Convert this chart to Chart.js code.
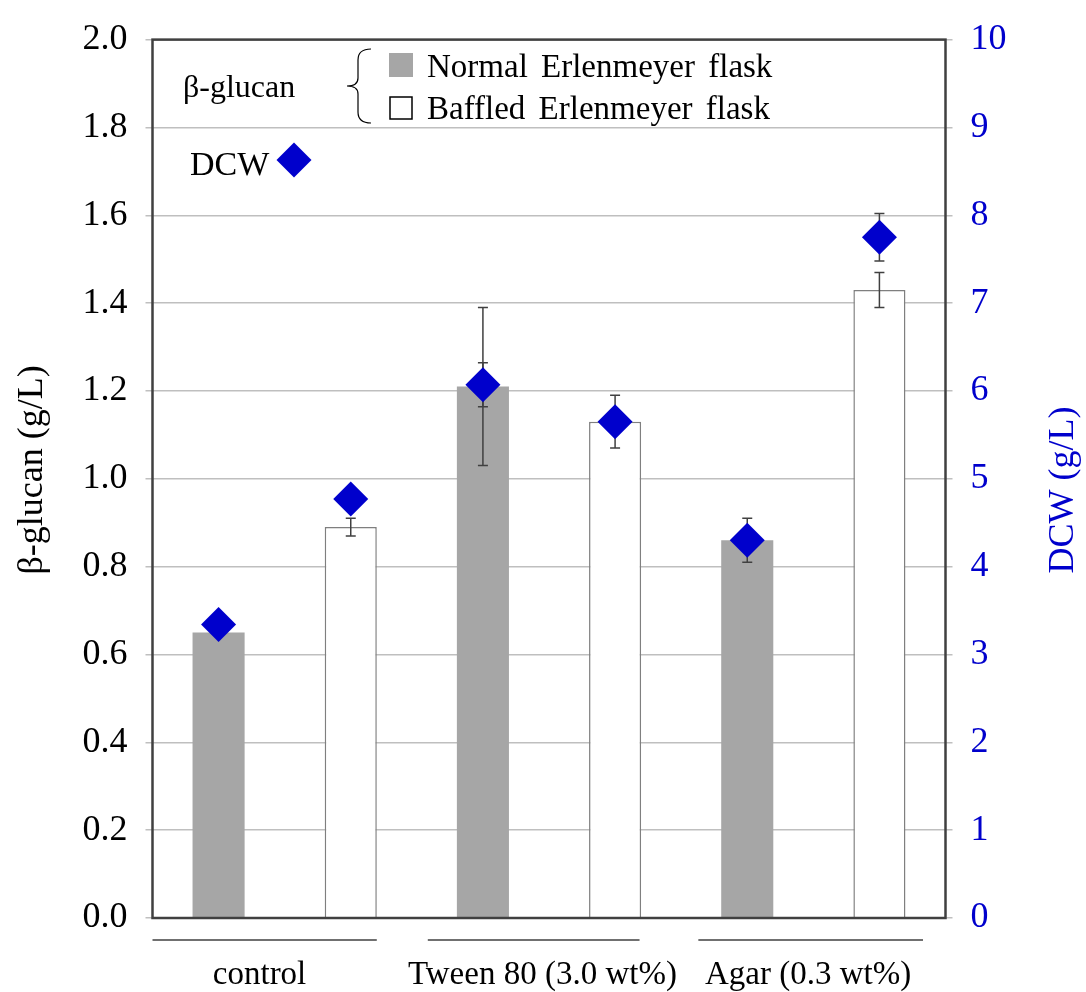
<!DOCTYPE html>
<html>
<head>
<meta charset="utf-8">
<script src="https://cdn.jsdelivr.net/npm/chart.js@4.4.1/dist/chart.umd.min.js"></script>
<style>
  html, body { margin: 0; padding: 0; background: #ffffff; }
  canvas { display: block; }
</style>
</head>
<body>
<canvas id="chart" width="1086" height="992"></canvas>
<script>
// Culture conditions and flask types
const groups = ['control', 'Tween 80 (3.0 wt%)', 'Agar (0.3 wt%)'];
const flasks = ['Normal Erlenmeyer flask', 'Baffled Erlenmeyer flask'];

// β-glucan (g/L), mean and error per condition
const glucanNormal = [0.65, 1.21, 0.86];
const glucanBaffled = [0.89, 1.13, 1.43];
const glucanNormalErr = [0, 0.18, 0.05];
const glucanBaffledErr = [0.02, 0.06, 0.04];

// Dry cell weight (g/L), mean and error per condition
const dcwNormal = [3.34, 6.07, 4.30];
const dcwBaffled = [4.77, 5.65, 7.75];
const dcwNormalErr = [0, 0.25, 0];
const dcwBaffledErr = [0, 0, 0.27];

// Axis tick labels
const glucanTickLabels = ['0.0', '0.2', '0.4', '0.6', '0.8', '1.0', '1.2', '1.4', '1.6', '1.8', '2.0'];
const dcwTickLabels = ['0', '1', '2', '3', '4', '5', '6', '7', '8', '9', '10'];

const SERIF = '"Liberation Serif", "Times New Roman", serif';
const BLUE = '#0000CC';
const GREY_BAR = '#A6A6A6';
const DARK = '#404040';

// One slot per bar: normal, baffled for each culture condition
const slots = [];
groups.forEach(g => flasks.forEach(f => slots.push(g + ' / ' + f)));
function spread(values, which) {
  const out = [];
  values.forEach(v => { out.push(which === 0 ? v : null); out.push(which === 1 ? v : null); });
  return out;
}

const errorBars = {
  id: 'errorBars',
  drawFor(chart, meta, ds) {
    const scale = chart.scales[meta.yAxisID];
    const ctx = chart.ctx;
    ctx.save();
    ctx.strokeStyle = DARK;
    ctx.lineWidth = 1.5;
    meta.data.forEach((el, i) => {
      const v = ds.data[i];
      const e = ds.errors[i];
      if (v === null || v === undefined || !e) return;
      const x = el.x;
      const yTop = scale.getPixelForValue(v + e);
      const yBot = scale.getPixelForValue(v - e);
      ctx.beginPath();
      ctx.moveTo(x, yTop); ctx.lineTo(x, yBot);
      ctx.moveTo(x - 5, yTop); ctx.lineTo(x + 5, yTop);
      ctx.moveTo(x - 5, yBot); ctx.lineTo(x + 5, yBot);
      ctx.stroke();
    });
    ctx.restore();
  },
  afterDatasetDraw(chart, args) {
    const ds = chart.data.datasets[args.index];
    if (ds.type === 'bar' && ds.errors) this.drawFor(chart, args.meta, ds);
  },
  beforeDatasetDraw(chart, args) {
    const ds = chart.data.datasets[args.index];
    if (ds.type === 'line' && ds.errors) this.drawFor(chart, args.meta, ds);
  }
};

function diamond(ctx, x, y, r) {
  ctx.beginPath();
  ctx.moveTo(x - r, y); ctx.lineTo(x, y - r); ctx.lineTo(x + r, y); ctx.lineTo(x, y + r);
  ctx.closePath();
  ctx.fill();
}

const decorations = {
  id: 'decorations',
  afterDraw(chart) {
    const ctx = chart.ctx;
    const a = chart.chartArea;
    const xs = chart.scales.x;
    ctx.save();

    // plot frame
    ctx.strokeStyle = DARK;
    ctx.lineWidth = 2.5;
    ctx.strokeRect(a.left, a.top, a.right - a.left, a.bottom - a.top);

    // axis titles
    ctx.font = '36px ' + SERIF;
    ctx.textAlign = 'center';
    ctx.textBaseline = 'middle';
    ctx.fillStyle = '#000000';
    ctx.save();
    ctx.translate(33, 470);
    ctx.rotate(-Math.PI / 2);
    ctx.fillText('β-glucan (g/L)', 0, 0);
    ctx.restore();
    ctx.fillStyle = BLUE;
    ctx.save();
    ctx.translate(1064, 490);
    ctx.rotate(-Math.PI / 2);
    ctx.fillText('DCW (g/L)', 0, 0);
    ctx.restore();

    // group rules and labels under the axis
    const rules = [[-0.5, 1.197], [1.583, 3.185], [3.63, 5.33]];
    const labelAt = [0.31, 2.45, 4.46];
    ctx.strokeStyle = DARK;
    ctx.lineWidth = 1.5;
    ctx.fillStyle = '#000000';
    ctx.font = '33px ' + SERIF;
    ctx.textBaseline = 'alphabetic';
    groups.forEach((g, i) => {
      ctx.beginPath();
      ctx.moveTo(xs.getPixelForValue(rules[i][0]), 940);
      ctx.lineTo(xs.getPixelForValue(rules[i][1]), 940);
      ctx.stroke();
      ctx.fillText(g, xs.getPixelForValue(labelAt[i]), 984);
    });

    // legend
    ctx.font = '32px ' + SERIF;
    ctx.textAlign = 'left';
    ctx.fillStyle = '#000000';
    ctx.fillText('β-glucan', 183, 97);
    ctx.font = '33px ' + SERIF;
    if ('wordSpacing' in ctx) ctx.wordSpacing = '5px';
    ctx.fillText(flasks[0], 427, 77);
    ctx.fillText(flasks[1], 427, 119);
    if ('wordSpacing' in ctx) ctx.wordSpacing = '0px';
    ctx.font = '34px ' + SERIF;
    ctx.fillText('DCW', 190, 175);

    ctx.fillStyle = GREY_BAR;
    ctx.fillRect(389, 53, 24, 24);
    ctx.fillStyle = '#ffffff';
    ctx.fillRect(390, 97, 22, 22);
    ctx.strokeStyle = '#000000';
    ctx.lineWidth = 1.5;
    ctx.strokeRect(390, 97, 22, 22);

    // brace grouping the two flask entries
    ctx.lineWidth = 1.2;
    ctx.beginPath();
    ctx.moveTo(371, 49);
    ctx.quadraticCurveTo(358, 49, 358, 60);
    ctx.lineTo(358, 78);
    ctx.quadraticCurveTo(358, 86, 347, 86);
    ctx.quadraticCurveTo(358, 86, 358, 94);
    ctx.lineTo(358, 112);
    ctx.quadraticCurveTo(358, 123, 371, 123);
    ctx.stroke();

    ctx.fillStyle = BLUE;
    diamond(ctx, 294, 160, 17.5);

    ctx.restore();
  }
};

const diamondStyle = {
  type: 'line',
  yAxisID: 'y2',
  showLine: false,
  pointStyle: 'rectRot',
  pointRadius: 17.5,
  pointHoverRadius: 17.5,
  pointBackgroundColor: BLUE,
  pointBorderColor: BLUE,
  pointBorderWidth: 0,
  order: 1
};

new Chart(document.getElementById('chart'), {
  data: {
    labels: slots,
    datasets: [
      Object.assign({ label: 'DCW normal', data: spread(dcwNormal, 0), errors: spread(dcwNormalErr, 0) }, diamondStyle),
      Object.assign({ label: 'DCW baffled', data: spread(dcwBaffled, 1), errors: spread(dcwBaffledErr, 1) }, diamondStyle),
      {
        type: 'bar', label: flasks[0], yAxisID: 'y',
        data: spread(glucanNormal, 0), errors: spread(glucanNormalErr, 0),
        backgroundColor: GREY_BAR, borderWidth: 0,
        skipNull: true, barPercentage: 0.394, categoryPercentage: 1, order: 2
      },
      {
        type: 'bar', label: flasks[1], yAxisID: 'y',
        data: spread(glucanBaffled, 1), errors: spread(glucanBaffledErr, 1),
        backgroundColor: '#ffffff', borderColor: '#7F7F7F', borderWidth: 1.5,
        skipNull: true, barPercentage: 0.394, categoryPercentage: 1, order: 2
      }
    ]
  },
  options: {
    responsive: false,
    animation: false,
    devicePixelRatio: 1,
    layout: { padding: { top: 37, bottom: 74, left: 0, right: 0 } },
    plugins: { legend: { display: false }, tooltip: { enabled: false } },
    events: [],
    scales: {
      x: { type: 'category', display: false, offset: true },
      y: {
        position: 'left', min: 0, max: 2.0,
        afterFit: s => { s.width = 152.5; },
        ticks: {
          stepSize: 0.2, padding: 18, color: '#000000',
          font: { family: SERIF, size: 36 },
          callback: (v, i) => glucanTickLabels[i]
        },
        grid: { color: '#BFBFBF', lineWidth: 1.5, tickLength: 7 },
        border: { display: false }
      },
      y2: {
        position: 'right', min: 0, max: 10,
        afterFit: s => { s.width = 140.5; },
        ticks: {
          stepSize: 1, padding: 18, color: BLUE,
          font: { family: SERIF, size: 36 },
          callback: (v, i) => dcwTickLabels[i]
        },
        grid: { drawOnChartArea: false, color: '#BFBFBF', lineWidth: 1.5, tickLength: 7 },
        border: { display: false }
      }
    }
  },
  plugins: [errorBars, decorations]
});
</script>
</body>
</html>
